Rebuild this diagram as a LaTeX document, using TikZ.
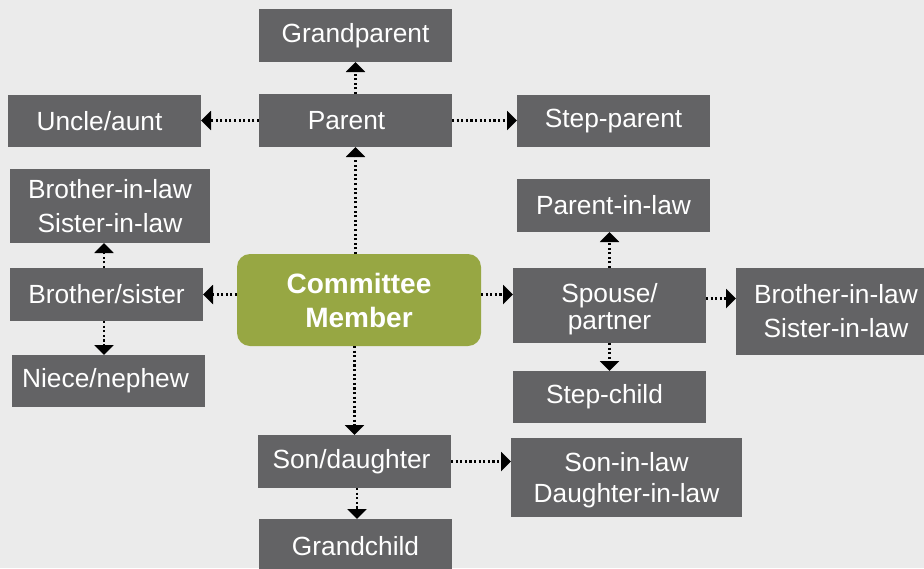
\documentclass[tikz,border=0pt]{standalone}
\usepackage{fontspec}
\setmainfont{Liberation Sans}
\usetikzlibrary{arrows.meta,calc}
\definecolor{bg}{HTML}{EBEBEB}
\definecolor{boxgray}{HTML}{636365}
\definecolor{olive}{HTML}{97A743}
\tikzset{
  box/.style={rectangle, fill=boxgray, text=white, inner sep=0pt, outer sep=0pt, align=center,
    font=\fontsize{26.3}{34}\selectfont},
  txt/.style={text=white, inner sep=0pt, outer sep=0pt, align=center,
    font=\fontsize{26.3}{34}\selectfont},
  cmbox/.style={rectangle, rounded corners=13pt, fill=olive, text=white, inner sep=0pt, outer sep=0pt, align=center,
    font=\bfseries\fontsize{28}{34}\selectfont},
  conn/.style={draw=black, line width=2.1pt, dash pattern=on 2.1pt off 2.5pt,
    -{Triangle[length=10pt,width=19pt]}, shorten >=0pt}
}
\begin{document}
\begin{tikzpicture}[x=1pt,y=-1pt]
\useasboundingbox (0,0) rectangle (924,568);
\fill[bg] (0,0) rectangle (924,568);
% nodes
\node[box, minimum width=193pt, minimum height=53pt] (gp) at (355.5,35.5) {Grandparent};
\node[box, minimum width=193pt, minimum height=53pt] (pa) at (355.5,120.5) {Parent\hspace{18pt}};
\node[box, minimum width=193pt, minimum height=52pt] (ua) at (104.5,121) {Uncle/aunt\hspace{10pt}};
\node[box, minimum width=193pt, minimum height=52pt] (sp) at (613.5,121) {Step-parent};
\node[box, minimum width=200pt, minimum height=74pt] (bl) at (110,206) {Brother-in-law\\Sister-in-law};
\node[box, minimum width=193pt, minimum height=53pt] (bs) at (106.5,294.5) {Brother/sister};
\node[box, minimum width=193pt, minimum height=52pt] (nn) at (108.5,381) {Niece/nephew\hspace{6pt}};
\node[cmbox, minimum width=244pt, minimum height=92pt] (cm) at (359,300) {Committee\\Member};
\node[box, minimum width=193pt, minimum height=53pt] (pl) at (613.5,205.5) {Parent-in-law};
\node[box, minimum width=193pt, minimum height=75pt] (ss) at (609.5,305.5) {};
\node[txt] (sst) at ([yshift=-4pt]ss.center) {Spouse/\\[-7pt]partner};
\node[box, minimum width=188pt, minimum height=87pt] (br) at (830,311.5) {\hspace{12pt}Brother-in-law\\\hspace{12pt}Sister-in-law};
\node[box, minimum width=193pt, minimum height=52pt] (sc) at (609.5,397) {Step-child\hspace{10pt}};
\node[box, minimum width=193pt, minimum height=53pt] (sd) at (354.5,461.5) {Son/daughter\hspace{6pt}};
\node[box, minimum width=231pt, minimum height=79pt] (sl) at (626.5,477.5) {};
\node[txt] (slt) at ([yshift=-3pt]sl.center) {Son-in-law\\[-3pt]Daughter-in-law};
\node[box, minimum width=193pt, minimum height=55pt] (gc) at (355.5,546.5) {Grandchild};
% connectors
\draw[conn] (pa.north) -- (gp.south);
\draw[conn] (pa.south |- cm.north) -- (pa.south);
\draw[conn] (pa.west) -- (pa.west -| ua.east);
\draw[conn] (pa.east) -- (pa.east -| sp.west);
\draw[conn] ([xshift=-2.5pt]bs.north) -- ([xshift=-2.5pt]bs.north |- bl.south);
\draw[conn] ([xshift=-2.5pt]bs.south) -- ([xshift=-2.5pt]bs.south |- nn.north);
\draw[conn] (cm.west |- bs.east) -- (bs.east);
\draw[conn] (cm.east |- bs.east) -- (ss.west |- bs.east);
\draw[conn] (ss.north) -- (ss.north |- pl.south);
\draw[conn] (ss.south) -- (ss.south |- sc.north);
\draw[conn] ([yshift=7pt]ss.east) -- ([yshift=7pt]ss.east -| br.west);
\draw[conn] (sd.north |- cm.south) -- (sd.north);
\draw[conn] (sd.east) -- (sd.east -| sl.west);
\draw[conn] ([xshift=2.5pt]sd.south) -- ([xshift=2.5pt]sd.south |- gc.north);
\end{tikzpicture}
\end{document}
